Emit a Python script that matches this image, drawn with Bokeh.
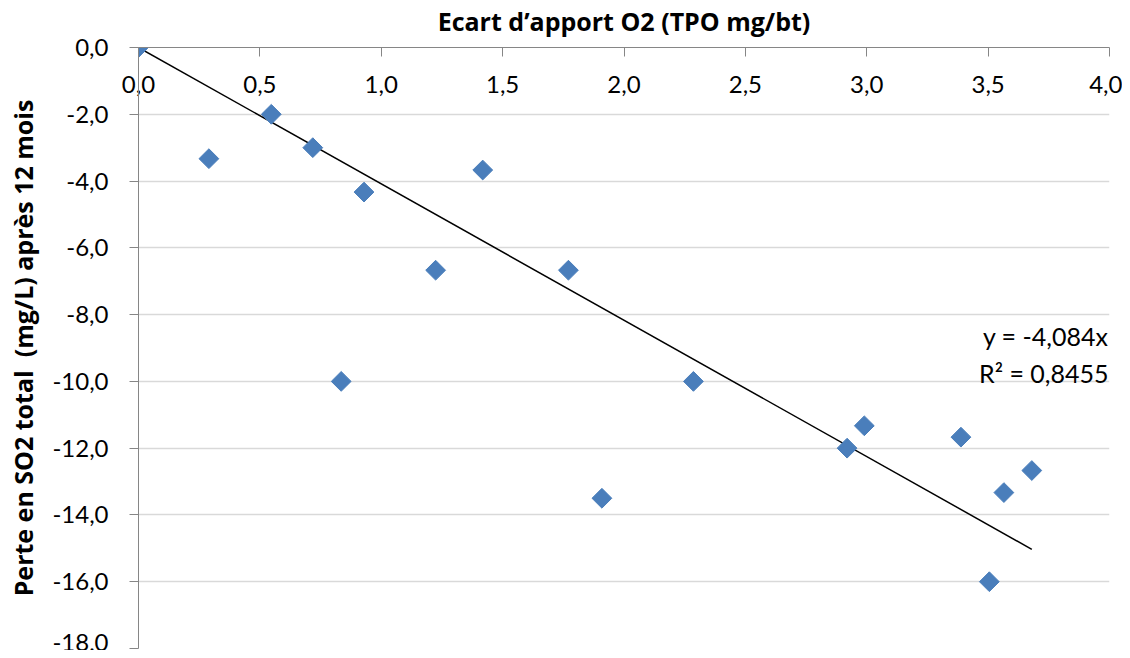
from bokeh.plotting import figure
from bokeh.models import Range1d, FixedTicker, CustomJSTickFormatter, Label, ColumnDataSource
from bokeh.embed import file_html
from bokeh.resources import INLINE
import math

# ---- data ----
ecart_o2 = [0.0, 0.29, 0.547, 0.718, 0.835, 0.929, 1.224, 1.418, 1.771, 1.909,
            2.286, 2.919, 2.990, 3.388, 3.505, 3.565, 3.680]
perte_so2 = [0.0, -3.33, -2.0, -3.0, -10.0, -4.33, -6.67, -3.67, -6.67, -13.5,
             -10.0, -12.0, -11.33, -11.67, -16.0, -13.33, -12.67]
x_ticks = [0.0, 0.5, 1.0, 1.5, 2.0, 2.5, 3.0, 3.5, 4.0]
y_ticks = [0.0, -2.0, -4.0, -6.0, -8.0, -10.0, -12.0, -14.0, -16.0, -18.0]
slope = -4.084
r2 = 0.8455
x_label = "Ecart d\u2019apport O2 (TPO mg/bt)"
y_label = "Perte en SO2 total \u00a0(mg/L) apr\u00e8s 12 mois"

FONT = "Lato"
BOLD_FONT = "Open Sans"
AXIS_GREY = "#868686"

p = figure(width=1122, height=650,
           x_range=Range1d(min(x_ticks), max(x_ticks)),
           y_range=Range1d(min(y_ticks), max(y_ticks)),
           x_axis_location="above",
           output_backend="svg", toolbar_location=None,
           min_border_left=138, min_border_right=13,
           min_border_top=45, min_border_bottom=2)
p.outline_line_color = None
p.background_fill_color = "white"
p.border_fill_color = "white"

fmt = CustomJSTickFormatter(code="return tick.toFixed(1).replace('.', ',');")

# x axis (top) - tick labels sit just under the axis line, title above it
xa = p.xaxis[0]
xa.ticker = FixedTicker(ticks=x_ticks)
xa.formatter = fmt
xa.axis_line_color = AXIS_GREY
xa.major_tick_line_color = AXIS_GREY
xa.major_tick_in = 9
xa.major_tick_out = 0
xa.minor_tick_line_color = None
xa.major_label_standoff = -45
xa.major_label_text_font = FONT
xa.major_label_text_font_size = "24px"
xa.major_label_text_color = "black"
xa.axis_label = x_label
xa.axis_label_text_font = BOLD_FONT
xa.axis_label_text_font_style = "bold"
xa.axis_label_text_font_size = "25px"
xa.axis_label_text_color = "black"
xa.axis_label_standoff = 35

# y axis
ya = p.yaxis[0]
ya.ticker = FixedTicker(ticks=y_ticks)
ya.formatter = fmt
ya.axis_line_color = AXIS_GREY
ya.major_tick_line_color = AXIS_GREY
ya.major_tick_in = 0
ya.major_tick_out = 9
ya.minor_tick_line_color = None
ya.major_label_standoff = 21
ya.major_label_text_font = FONT
ya.major_label_text_font_size = "24px"
ya.major_label_text_color = "black"
ya.axis_label = y_label
ya.axis_label_text_font = BOLD_FONT
ya.axis_label_text_font_style = "bold"
ya.axis_label_text_font_size = "25px"
ya.axis_label_text_color = "black"
ya.axis_label_standoff = 9

p.xgrid.grid_line_color = None
p.ygrid.ticker = FixedTicker(ticks=y_ticks)
p.ygrid.grid_line_color = "#d9d9d9"
p.ygrid.grid_line_width = 1.5

# trend line through origin
x_end = max(ecart_o2)
p.line([0.0, x_end], [0.0, slope * x_end], line_color="black", line_width=1.5)

src = ColumnDataSource(dict(x=ecart_o2, y=perte_so2))
p.scatter("x", "y", source=src, marker="square", angle=math.pi / 4, size=14,
          fill_color="#4a7ebb", line_color="#4a7ebb")

eq1 = "y = " + f"{slope:.3f}".replace(".", ",") + "x"
eq2 = "R\u00b2 = " + f"{r2:.4f}".replace(".", ",")
p.add_layout(Label(x=max(x_ticks), y=-8.65, text=eq1, text_align="right", text_baseline="middle",
                   x_offset=-1, text_font=FONT, text_font_size="25px", text_color="black"))
p.add_layout(Label(x=max(x_ticks), y=-9.74, text=eq2, text_align="right", text_baseline="middle",
                   x_offset=-1, text_font=FONT, text_font_size="25px", text_color="black"))

open("out.html", "w").write(file_html(p, INLINE))
